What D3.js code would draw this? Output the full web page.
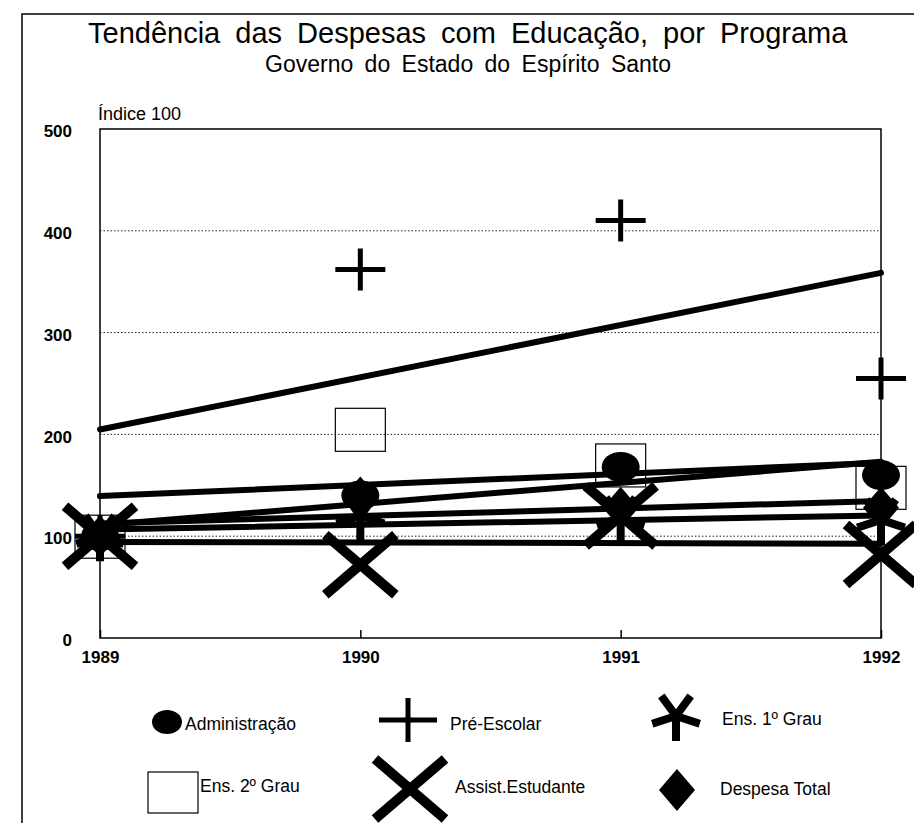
<!DOCTYPE html>
<html>
<head>
<meta charset="utf-8">
<script src="https://cdn.jsdelivr.net/npm/d3@7"></script>
<style>
  body { margin: 0; background: #fff; }
  svg { display: block; font-family: "Liberation Sans", Arial, sans-serif; }
</style>
</head>
<body>
<svg id="chart" width="914" height="823"></svg>
<script>
var years = [1989, 1990, 1991, 1992];
var administracao = [100, 140, 168, 160];
var preEscolar = [100, 362, 410, 255];
var ens1Grau = [100, 120, 118, 116];
var ens2Grau = [100, 205, 170, 148];
var assistEstudante = [100, 72, 120, 82];
var despesaTotal = [100, 138, 128, 128];
var yTicks = [0, 100, 200, 300, 400, 500];

var series = [
  {name: 'Administração', values: administracao, marker: 'circle'},
  {name: 'Pré-Escolar', values: preEscolar, marker: 'plus'},
  {name: 'Ens. 1º Grau', values: ens1Grau, marker: 'asterisk'},
  {name: 'Ens. 2º Grau', values: ens2Grau, marker: 'square'},
  {name: 'Assist.Estudante', values: assistEstudante, marker: 'cross'},
  {name: 'Despesa Total', values: despesaTotal, marker: 'diamond'}
];

var svg = d3.select('#chart');

// outer frame of the page
svg.append('rect')
  .attr('x', 22).attr('y', 14).attr('width', 920).attr('height', 830)
  .attr('fill', 'none').attr('stroke', '#000').attr('stroke-width', 1.5);

svg.append('text')
  .attr('x', 88).attr('y', 43)
  .style('font-size', '29px').style('word-spacing', '7px')
  .text('Tendência das Despesas com Educação, por Programa');
svg.append('text')
  .attr('x', 265).attr('y', 72)
  .style('font-size', '23px').style('word-spacing', '5px')
  .text('Governo do Estado do Espírito Santo');
svg.append('text')
  .attr('x', 98).attr('y', 120)
  .style('font-size', '18px')
  .text('Índice 100');

var x = d3.scalePoint().domain(years).range([100, 881]);
var y = d3.scaleLinear().domain([0, 500]).range([638, 129]);

// dotted grid
svg.append('g').selectAll('line')
  .data(yTicks.filter(function(t) { return t > 0 && t < 500; }))
  .enter().append('line')
  .attr('x1', 100).attr('x2', 881)
  .attr('y1', function(d) { return y(d); })
  .attr('y2', function(d) { return y(d); })
  .attr('stroke', '#222').attr('stroke-width', 1)
  .attr('stroke-dasharray', '1.5,2');

// plot frame
svg.append('rect')
  .attr('x', 100).attr('y', y(500))
  .attr('width', 781).attr('height', y(0) - y(500))
  .attr('fill', 'none').attr('stroke', '#000').attr('stroke-width', 1.5);

var yAxis = svg.append('g')
  .attr('transform', 'translate(100,0)')
  .call(d3.axisLeft(y).tickValues(yTicks).tickSize(0).tickPadding(28));
yAxis.select('.domain').remove();
yAxis.selectAll('text')
  .attr('dy', '0.45em')
  .style('font-size', '17px').style('font-weight', 'bold')
  .style('font-family', 'Liberation Sans, Arial').attr('fill', '#000');

var xAxis = svg.append('g')
  .attr('transform', 'translate(0,638)')
  .call(d3.axisBottom(x).tickSize(-8).tickPadding(13).tickFormat(d3.format('d')));
xAxis.select('.domain').remove();
xAxis.selectAll('line').attr('stroke', '#000').attr('stroke-width', 1.5);
xAxis.selectAll('text')
  .style('font-size', '17px').style('font-weight', 'bold')
  .style('font-family', 'Liberation Sans, Arial').attr('fill', '#000');

// least squares trend line through each series
function trend(vals) {
  var idx = d3.range(vals.length);
  var mx = d3.mean(idx), my = d3.mean(vals);
  var sxy = d3.sum(idx, function(i) { return (i - mx) * (vals[i] - my); });
  var sxx = d3.sum(idx, function(i) { return (i - mx) * (i - mx); });
  var b = sxy / sxx, a = my - b * mx;
  return [[years[0], a], [years[years.length - 1], a + b * (vals.length - 1)]];
}

var line = d3.line()
  .x(function(d) { return x(d[0]); })
  .y(function(d) { return y(d[1]); });

svg.append('g').selectAll('path')
  .data(series)
  .enter().append('path')
  .attr('d', function(s) { return line(trend(s.values)); })
  .attr('fill', 'none').attr('stroke', '#000')
  .attr('stroke-width', 6).attr('stroke-linecap', 'round');

function drawMarker(g, type, cx, cy, small) {
  if (type === 'circle') {
    g.append('ellipse').attr('cx', cx).attr('cy', cy)
      .attr('rx', small ? 15 : 19).attr('ry', small ? 12 : 15).attr('fill', '#000');
  } else if (type === 'plus') {
    var hw = small ? 29 : 25, hh = small ? 22 : 21;
    g.append('path')
      .attr('d', 'M' + (cx - hw) + ',' + cy + 'H' + (cx + hw) + 'M' + cx + ',' + (cy - hh) + 'V' + (cy + hh))
      .attr('stroke', '#000').attr('stroke-width', 5).attr('fill', 'none');
  } else if (type === 'asterisk') {
    var r = 25, p = '';
    [90, 18, 162, 234, 306].forEach(function(a) {
      var t = a * Math.PI / 180;
      p += 'M' + cx + ',' + cy + 'L' + (cx + r * Math.cos(t)) + ',' + (cy + r * Math.sin(t));
    });
    g.append('path').attr('d', p)
      .attr('stroke', '#000').attr('stroke-width', 8).attr('fill', 'none');
  } else if (type === 'square') {
    g.append('rect').attr('x', cx - 25).attr('y', cy - (small ? 20 : 21))
      .attr('width', 50).attr('height', small ? 41 : 43)
      .attr('fill', 'none').attr('stroke', '#000').attr('stroke-width', 1.2);
  } else if (type === 'cross') {
    g.append('path')
      .attr('d', 'M' + (cx - 35) + ',' + (cy - 30) + 'L' + (cx + 35) + ',' + (cy + 30) +
                 'M' + (cx + 35) + ',' + (cy - 30) + 'L' + (cx - 35) + ',' + (cy + 30))
      .attr('stroke', '#000').attr('stroke-width', 10).attr('fill', 'none');
  } else if (type === 'diamond') {
    g.append('path')
      .attr('d', 'M' + cx + ',' + (cy - 21) + 'L' + (cx + 18) + ',' + cy + 'L' + cx + ',' + (cy + 21) + 'L' + (cx - 18) + ',' + cy + 'Z')
      .attr('fill', '#000');
  }
}

var marks = svg.append('g');
series.forEach(function(s) {
  s.values.forEach(function(v, i) {
    drawMarker(marks, s.marker, x(years[i]), y(v), false);
  });
});

// legend, two rows of three
var legendPos = [
  {mx: 167, my: 722, tx: 185, ty: 730},
  {mx: 408, my: 720, tx: 450, ty: 730},
  {mx: 676, my: 716, tx: 722, ty: 725},
  {mx: 173, my: 792, tx: 200, ty: 792},
  {mx: 410, my: 789, tx: 455, ty: 793},
  {mx: 677, my: 790, tx: 720, ty: 795}
];
var legend = svg.append('g');
series.forEach(function(s, i) {
  var p = legendPos[i];
  drawMarker(legend, s.marker, p.mx, p.my, true);
  legend.append('text')
    .attr('x', p.tx).attr('y', p.ty)
    .style('font-size', '17.5px')
    .text(s.name);
});
</script>
</body>
</html>
